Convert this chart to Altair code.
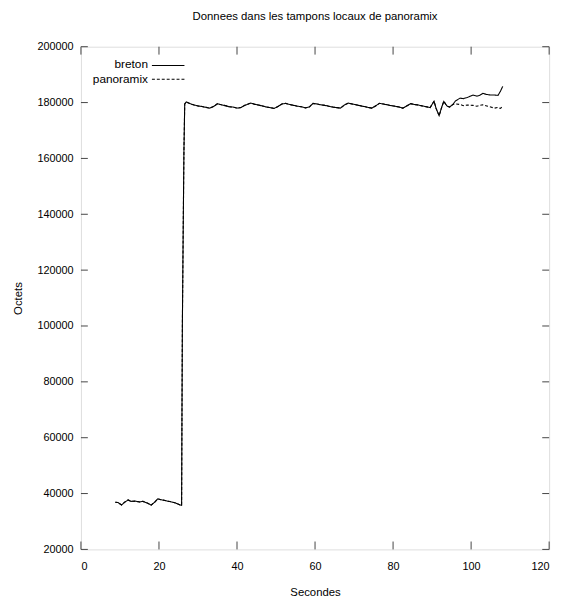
import altair as alt
import pandas as pd

# ---- data ----
times = [8.8, 9.5, 10.4, 11.2, 12.1, 12.8, 13.9, 15.0, 15.9, 17.0, 18.0, 18.8, 19.7, 20.5,
         21.3, 22.2, 23.2, 24.3, 25.5, 25.8, 25.9, 26.0, 26.2, 26.4, 26.6, 27.0, 28.0, 29.0,
         30.0, 31.0, 32.0, 33.0, 34.0, 35.0, 36.0, 37.0, 38.0, 39.0, 40.0, 41.0, 42.0, 43.5,
         44.5, 45.5, 46.5, 47.5, 48.5, 49.5, 50.5, 51.5, 52.5, 53.5, 54.5, 55.5, 56.5, 57.5,
         58.5, 59.5, 60.5, 61.5, 62.5, 63.5, 64.5, 65.5, 66.5, 67.5, 68.5, 69.5, 70.5, 71.5,
         72.5, 73.5, 74.5, 75.5, 76.5, 77.5, 78.5, 79.5, 80.5, 81.5, 82.5, 83.5, 84.5, 85.5,
         86.5, 87.5, 88.5, 89.5, 90.5, 91.0, 91.8, 92.5, 93.0, 93.8, 94.5, 95.3, 96.0, 97.2,
         98.0, 99.0, 100.5, 101.5, 102.2, 103.0, 104.0, 105.0, 106.0, 106.9, 107.5, 108.1]

breton = [36900, 36800, 35900, 36900, 37700, 37200, 37300, 37000, 37200, 36600, 35900, 36800,
          38100, 37800, 37600, 37300, 37000, 36600, 35900, 35800, 70000, 101000, 133000, 163000,
          179500, 180200, 179600, 179100, 178800, 178600, 178300, 178000, 178600, 179600, 179200,
          178900, 178500, 178400, 178000, 178200, 179000, 179800, 179400, 179100, 178800, 178400,
          178200, 177900, 178600, 179500, 179700, 179300, 179000, 178700, 178500, 178100, 178400,
          179700, 179500, 179200, 179000, 178700, 178400, 178200, 178000, 179100, 179800, 179500,
          179200, 178900, 178600, 178300, 178000, 178800, 179700, 179500, 179200, 178900, 178700,
          178400, 178000, 178800, 179600, 179300, 179100, 178800, 178500, 178200, 180500, 178000,
          175300, 178500, 180400, 178800, 178400, 179300, 180600, 181600, 181400, 181800, 182700,
          182300, 182600, 183300, 182900, 182700, 182700, 182600, 184000, 185800]

# panoramix follows breton until ~95 s, then separates
split_index = 96
panoramix_tail = [179500, 179300, 178900, 179100, 179000, 178700, 179000, 179200, 178800,
                  178400, 178000, 178300, 177900, 178600]

x_ticks = [0, 20, 40, 60, 80, 100, 120]
y_ticks = [20000, 40000, 60000, 80000, 100000, 120000, 140000, 160000, 180000, 200000]
series_names = ["breton", "panoramix"]

panoramix = breton[:split_index] + panoramix_tail

df = pd.DataFrame({
    "t": times + times,
    "v": breton + panoramix,
    "serie": [series_names[0]] * len(times) + [series_names[1]] * len(times),
    "order": list(range(len(times))) * 2,
})

W, H = 475, 510
FONT = "Liberation Sans"

xs = alt.Scale(domain=[0, 120], nice=False, zero=False)
ys = alt.Scale(domain=[20000, 200000], nice=False, zero=False)

base = alt.Chart(df)

lines = base.mark_line(color="black", strokeWidth=1.1, clip=True).encode(
    x=alt.X("t:Q", scale=xs,
            axis=alt.Axis(values=x_ticks, ticks=False, domain=False, grid=False,
                          labelPadding=11, title="Secondes", titlePadding=16,
                          labelFontSize=11, titleFontSize=11.5, titleFontWeight="normal",
                          labelColor="black", titleColor="black", labelFont=FONT, titleFont=FONT)),
    y=alt.Y("v:Q", scale=ys,
            axis=alt.Axis(values=y_ticks, ticks=False, domain=False, grid=False,
                          labelPadding=8, title="Octets", titlePadding=14,
                          labelFontSize=11, titleFontSize=11.5, titleFontWeight="normal",
                          labelColor="black", titleColor="black", labelFont=FONT, titleFont=FONT,
                          format="d")),
    strokeDash=alt.StrokeDash("serie:N", scale=alt.Scale(domain=series_names,
                                                         range=[[1, 0], [3, 2]]), legend=None),
    detail="serie:N",
    order="order:Q",
)

xt = pd.DataFrame({"tick": x_ticks})
yt = pd.DataFrame({"tick": y_ticks})
tick_color = "#444"

xticks_bottom = alt.Chart(xt).mark_rule(color=tick_color).encode(
    x=alt.X("tick:Q", scale=xs), y=alt.value(H), y2=alt.value(H - 8))
xticks_top = alt.Chart(xt).mark_rule(color=tick_color).encode(
    x=alt.X("tick:Q", scale=xs), y=alt.value(0), y2=alt.value(8))
yticks_left = alt.Chart(yt).mark_rule(color=tick_color).encode(
    y=alt.Y("tick:Q", scale=ys), x=alt.value(0), x2=alt.value(7))
yticks_right = alt.Chart(yt).mark_rule(color=tick_color).encode(
    y=alt.Y("tick:Q", scale=ys), x=alt.value(W), x2=alt.value(W - 7))

# gnuplot-style key: label on the left, line sample on the right
leg_df = pd.DataFrame({"serie": series_names})
leg_text_b = alt.Chart(leg_df).transform_filter(alt.datum.serie == "breton").mark_text(
    align="right", baseline="middle", font=FONT, fontSize=12, color="black").encode(
    text="serie:N", x=alt.value(68), y=alt.value(18))
leg_text_p = alt.Chart(leg_df).transform_filter(alt.datum.serie == "panoramix").mark_text(
    align="right", baseline="middle", font=FONT, fontSize=12, color="black").encode(
    text="serie:N", x=alt.value(68), y=alt.value(33))
leg_line_b = alt.Chart(leg_df).transform_filter(alt.datum.serie == "breton").mark_rule(
    color="black", strokeWidth=1.1).encode(x=alt.value(72), x2=alt.value(105), y=alt.value(19))
leg_line_p = alt.Chart(leg_df).transform_filter(alt.datum.serie == "panoramix").mark_rule(
    color="black", strokeWidth=1.1, strokeDash=[3, 2]).encode(
    x=alt.value(72), x2=alt.value(105), y=alt.value(33))

chart = alt.layer(
    xticks_bottom, xticks_top, yticks_left, yticks_right,
    lines, leg_text_b, leg_text_p, leg_line_b, leg_line_p,
).properties(
    width=W, height=H,
    title=alt.TitleParams("Donnees dans les tampons locaux de panoramix", font=FONT,
                          fontSize=11.5, fontWeight="normal", color="black",
                          anchor="middle", offset=19),
    autosize=alt.AutoSizeParams(type="none"),
    padding={"left": 74, "top": 35, "right": 10, "bottom": 44},
).configure_view(
    stroke="#555", strokeWidth=1.2
).configure(background="white")

chart.save("out.html", embed_options={"renderer": "svg", "actions": False})
